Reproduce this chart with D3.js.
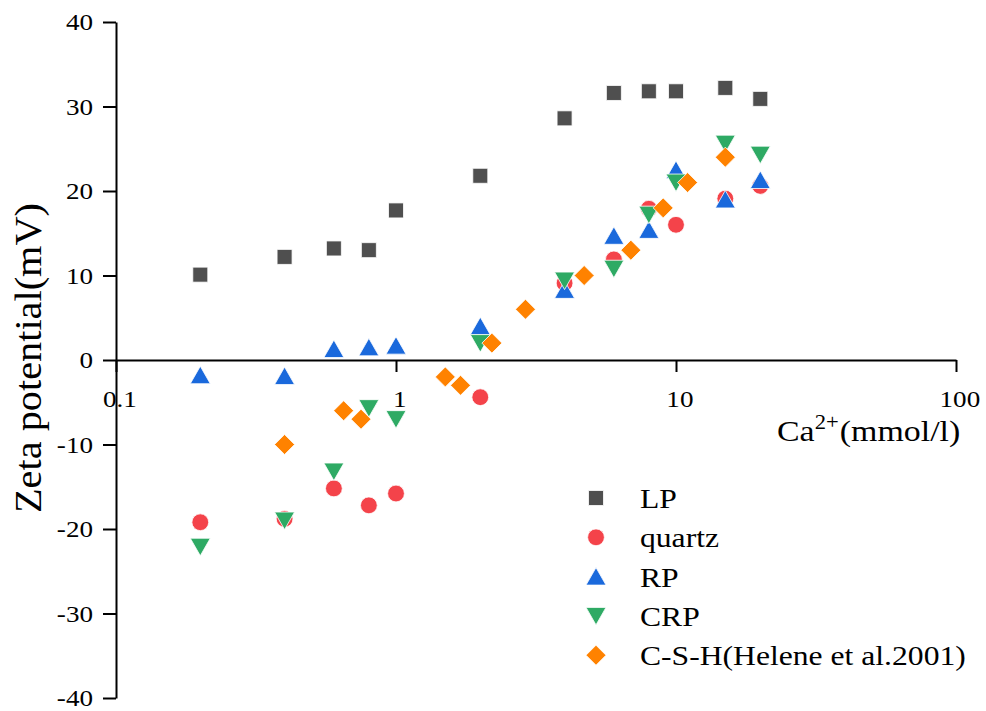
<!DOCTYPE html>
<html>
<head>
<meta charset="utf-8">
<script src="https://cdn.jsdelivr.net/npm/d3@7"></script>
<style>
  body { margin: 0; background: #fff; }
  text { font-family: "Liberation Serif", "Times New Roman", serif; fill: #000; }
</style>
</head>
<body>
<div id="chart"></div>
<script>
// data
var conc = [0.2, 0.4, 0.6, 0.8, 1, 2, 4, 6, 8, 10, 15, 20];
var lp_vals     = [10.1, 12.2, 13.2, 13.0, 17.7, 21.8, 28.6, 31.6, 31.8, 31.8, 32.2, 30.9];
var quartz_vals = [-19.2, -18.8, -15.2, -17.2, -15.8, -4.4, 9.1, 11.9, 17.9, 16.0, 19.1, 20.6];
var rp_vals     = [-1.8, -1.9, 1.3, 1.5, 1.7, 4.0, 8.3, 14.7, 15.4, 22.5, 19.0, 21.3];
var crp_vals    = [-22.1, -19.0, -13.2, -5.7, -7.0, 2.0, 9.4, 10.8, 17.2, 21.0, 25.6, 24.3];
var csh_conc = [0.4, 0.65, 0.75, 1.5, 1.7, 2.2, 2.9, 4.7, 6.9, 9, 11, 15];
var csh_vals = [-10, -6, -7, -2, -3, 2, 6, 10, 13, 18, 21, 24];

var series_names = ["LP", "quartz", "RP", "CRP", "C-S-H(Helene et al.2001)"];
var x_ticks = [0.1, 1, 10, 100];
var y_ticks = [-40, -30, -20, -10, 0, 10, 20, 30, 40];

var width = 986, height = 711;
var STRETCH = 1.13; // text in the figure is a bit wide

var series = [
  { name: series_names[0], xs: conc, ys: lp_vals, color: "#4f4f4f", shape: "square" },
  { name: series_names[1], xs: conc, ys: quartz_vals, color: "#f4434a", shape: "circle" },
  { name: series_names[2], xs: conc, ys: rp_vals, color: "#1a69dc", shape: "up" },
  { name: series_names[3], xs: conc, ys: crp_vals, color: "#2eaa64", shape: "down" },
  { name: series_names[4], xs: csh_conc, ys: csh_vals, color: "#ff8200", shape: "diamond" }
];

var svg = d3.select("#chart").append("svg")
  .attr("width", width).attr("height", height);

var x = d3.scaleLog().domain([0.1, 100]).range([116, 956]);
var y = d3.scaleLinear().domain([-40, 40]).range([698, 22]);

// marker shapes
function shape_path(shape) {
  if (shape == "square") return "M-7.5,-7.5H7.5V7.5H-7.5Z";
  if (shape == "up") return "M0,-9L10,8.5H-10Z";
  if (shape == "down") return "M0,9L10,-8.5H-10Z";
  if (shape == "diamond") return "M0,-10L10,0L0,10L-10,0Z";
  return null;
}
function draw_marker(g, shape, color) {
  if (shape == "circle") {
    g.append("circle").attr("r", 8.4).attr("fill", color)
      .attr("stroke", "#fff").attr("stroke-width", 0.8);
  } else {
    g.append("path").attr("d", shape_path(shape)).attr("fill", color)
      .attr("stroke", "#fff").attr("stroke-width", 0.8);
  }
}
function stretch_text(sel) {
  sel.each(function () {
    var t = d3.select(this);
    var tx = +t.attr("x") || 0, ty = +t.attr("y") || 0;
    t.attr("x", 0).attr("y", 0)
     .attr("transform", "translate(" + tx + "," + ty + ") scale(" + STRETCH + ",1)");
  });
}

// x axis (log) at y=0
var minor_x = [];
[0.1, 1, 10].forEach(function (d) {
  for (var k = 2; k <= 9; k++) minor_x.push(+(d * k).toPrecision(3));
});
var xg = svg.append("g").attr("transform", "translate(0," + y(0) + ")");
xg.call(d3.axisBottom(x).tickValues(minor_x).tickSize(6).tickSizeOuter(0).tickFormat(""));
xg.call(d3.axisBottom(x).tickValues(x_ticks).tickSize(12).tickSizeOuter(0).tickPadding(18)
  .tickFormat(function (d) { return d < 1 ? "0.1" : String(d); }));
xg.selectAll("text").attr("font-size", 24).attr("dx", 3)
  .attr("font-family", "Liberation Serif");

// y axis
var minor_y = d3.range(-40, 40.01, 10 / 3);
var yg = svg.append("g").attr("transform", "translate(" + x(0.1) + ",0)");
yg.call(d3.axisLeft(y).tickValues(minor_y).tickSize(7).tickSizeOuter(0).tickFormat(""));
yg.call(d3.axisLeft(y).tickValues(y_ticks).tickSize(13).tickSizeOuter(0).tickPadding(10)
  .tickFormat(function (d) { return String(d); }));
yg.selectAll("text").attr("font-size", 24).attr("font-family", "Liberation Serif");

svg.selectAll(".domain, .tick line").attr("stroke", "#000").attr("stroke-width", 2);
stretch_text(xg.selectAll("text"));
stretch_text(yg.selectAll("text"));

// axis titles
var xt = svg.append("text").attr("x", 777).attr("y", 441).attr("font-size", 30);
xt.append("tspan").text("Ca");
xt.append("tspan").attr("font-size", 20).attr("dy", -12).text("2+");
xt.append("tspan").attr("dy", 12).attr("dx", 1).text("(mmol/l)");
stretch_text(xt);

svg.append("text")
  .attr("transform", "translate(41,358) rotate(-90)")
  .attr("text-anchor", "middle")
  .attr("font-size", 38)
  .attr("textLength", 310).attr("lengthAdjust", "spacingAndGlyphs")
  .text("Zeta potential(mV)");

// points
series.forEach(function (s) {
  var pts = svg.append("g").selectAll("g")
    .data(s.xs.map(function (d, i) { return { x: d, y: s.ys[i] }; }))
    .enter().append("g")
    .attr("transform", function (d) { return "translate(" + x(d.x) + "," + y(d.y) + ")"; });
  pts.each(function () { draw_marker(d3.select(this), s.shape, s.color); });
});

// legend
var leg = svg.append("g");
series.forEach(function (s, i) {
  var row = leg.append("g").attr("transform", "translate(596," + (498 + i * 39.3) + ")");
  draw_marker(row, s.shape, s.color);
  var t = row.append("text").attr("x", 44).attr("y", 10).attr("font-size", 28).text(s.name);
  stretch_text(t);
});
</script>
</body>
</html>
